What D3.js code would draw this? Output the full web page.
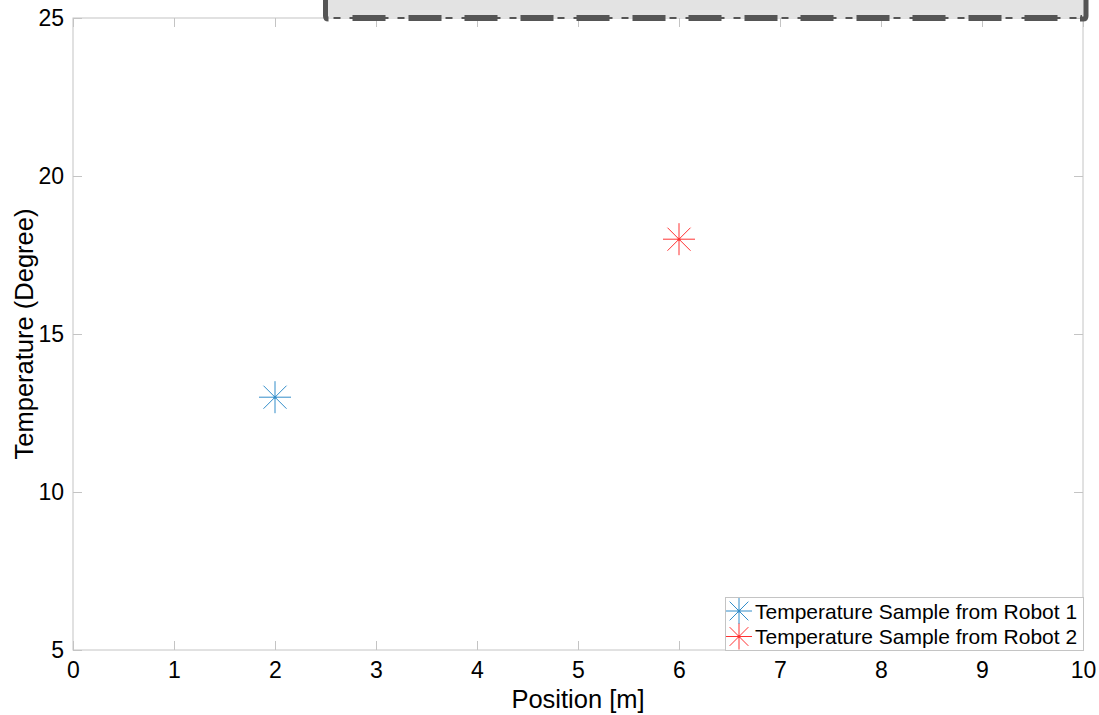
<!DOCTYPE html>
<html>
<head>
<meta charset="utf-8">
<script src="https://cdn.jsdelivr.net/npm/d3@7"></script>
<style>
  body { margin: 0; background: #fff; }
  svg text { font-family: "Liberation Sans", Arial, Helvetica, sans-serif; fill: #000; }
</style>
</head>
<body>
<div id="chart"></div>
<script>
// data
var xTicks = [0, 1, 2, 3, 4, 5, 6, 7, 8, 9, 10];
var yTicks = [5, 10, 15, 20, 25];
var seriesNames = ["Temperature Sample from Robot 1", "Temperature Sample from Robot 2"];
var seriesColors = ["#0072BD", "#FF0000"];
var robot1 = [[2, 13]];
var robot2 = [[6, 18]];
// shaded band at the top (x from, x to, lower y)
var bandX = [2.5, 10];
var bandY = 25;

var W = 1099, H = 715;
var margin = {left: 73, right: 16, top: 18, bottom: 65};

var svg = d3.select("#chart").append("svg").attr("width", W).attr("height", H);

var x = d3.scaleLinear().domain([0, 10]).range([margin.left, W - margin.right]);
var y = d3.scaleLinear().domain([5, 25]).range([H - margin.bottom, margin.top]);

var tickLen = 9, boxColor = "#c4c4c4";

// axes box
var g = svg.append("g");
g.append("rect")
    .attr("x", x(0)).attr("y", y(25))
    .attr("width", x(10) - x(0)).attr("height", y(5) - y(25))
    .attr("fill", "none").attr("stroke", boxColor).attr("stroke-width", 1);

// inward ticks on all four sides
var xAxisB = d3.axisBottom(x).tickValues(xTicks).tickSizeInner(-tickLen).tickSizeOuter(0).tickPadding(12);
var xAxisT = d3.axisTop(x).tickValues(xTicks).tickSizeInner(-tickLen).tickSizeOuter(0).tickFormat("");
var yAxisL = d3.axisLeft(y).tickValues(yTicks).tickSizeInner(-tickLen).tickSizeOuter(0).tickPadding(9);
var yAxisR = d3.axisRight(y).tickValues(yTicks).tickSizeInner(-tickLen).tickSizeOuter(0).tickFormat("");

function styleAxis(sel) {
    sel.select(".domain").remove();
    sel.selectAll(".tick line").attr("stroke", boxColor);
    sel.selectAll(".tick text").attr("font-size", 23).attr("fill", "#000")
        .style("font-family", "'Liberation Sans', Arial, sans-serif");
}
g.append("g").attr("transform", "translate(0," + y(5) + ")").call(xAxisB).call(styleAxis);
g.append("g").attr("transform", "translate(0," + y(25) + ")").call(xAxisT).call(styleAxis);
g.append("g").attr("transform", "translate(" + x(0) + ",0)").call(yAxisL).call(styleAxis);
g.append("g").attr("transform", "translate(" + x(10) + ",0)").call(yAxisR).call(styleAxis);

// shaded band peeking in from above
var bandLeft = x(bandX[0]), bandRight = x(bandX[1]) + 3, bandBottom = y(bandY);
svg.append("rect")
    .attr("x", bandLeft).attr("y", -10)
    .attr("width", bandRight - bandLeft).attr("height", bandBottom + 10)
    .attr("fill", "#e3e3e3");
svg.append("line")
    .attr("x1", bandLeft + 8).attr("x2", bandRight - 6)
    .attr("y1", bandBottom).attr("y2", bandBottom)
    .attr("stroke", "#555").attr("stroke-width", 2)
    .attr("stroke-dasharray", "7 9");
svg.append("line")
    .attr("x1", bandLeft + 27).attr("x2", bandRight - 4)
    .attr("y1", bandBottom).attr("y2", bandBottom)
    .attr("stroke", "#555").attr("stroke-width", 6)
    .attr("stroke-dasharray", "33 23");
svg.append("path")
    .attr("d", "M" + bandLeft + ",-10V" + (bandBottom - 2) + "q0,3 3,3")
    .attr("fill", "none").attr("stroke", "#555").attr("stroke-width", 5);
svg.append("path")
    .attr("d", "M" + bandRight + ",-10V" + (bandBottom - 2) + "q0,3 -3,3h-3")
    .attr("fill", "none").attr("stroke", "#555").attr("stroke-width", 5);

// asterisk marker
function asterisk(sel, cx, cy, r, color) {
    var d = r * 0.72;
    var m = sel.append("g").attr("transform", "translate(" + cx + "," + cy + ")")
        .attr("stroke", color).attr("stroke-width", 1).attr("opacity", 0.8);
    m.append("line").attr("x1", -r).attr("x2", r).attr("y1", 0).attr("y2", 0);
    m.append("line").attr("x1", 0).attr("x2", 0).attr("y1", -r).attr("y2", r);
    m.append("line").attr("x1", -d).attr("x2", d).attr("y1", -d).attr("y2", d);
    m.append("line").attr("x1", -d).attr("x2", d).attr("y1", d).attr("y2", -d);
    m.append("circle").attr("r", 1.5).attr("fill", color).attr("stroke", "none");
}

var pts = svg.append("g");
robot1.forEach(function(p) { asterisk(pts, x(p[0]), y(p[1]), 16, seriesColors[0]); });
robot2.forEach(function(p) { asterisk(pts, x(p[0]), y(p[1]), 16, seriesColors[1]); });

// axis titles
svg.append("text").attr("x", (x(0) + x(10)) / 2).attr("y", 708)
    .attr("text-anchor", "middle").attr("font-size", 25.5).text("Position [m]");
svg.append("text")
    .attr("transform", "translate(33," + ((y(5) + y(25)) / 2) + ") rotate(-90)")
    .attr("text-anchor", "middle").attr("font-size", 25.5).text("Temperature (Degree)");

// legend
var lg = svg.append("g");
lg.append("rect").attr("x", 725.5).attr("y", 597.5).attr("width", 358).attr("height", 53)
    .attr("fill", "#fff").attr("stroke", "#c4c4c4").attr("stroke-width", 1);
seriesNames.forEach(function(name, i) {
    var cy = 611 + i * 25.5;
    asterisk(lg, 739, cy, 13, seriesColors[i]);
    lg.append("text").attr("x", 755).attr("y", cy + 7.5).attr("font-size", 21).text(name);
});
</script>
</body>
</html>
